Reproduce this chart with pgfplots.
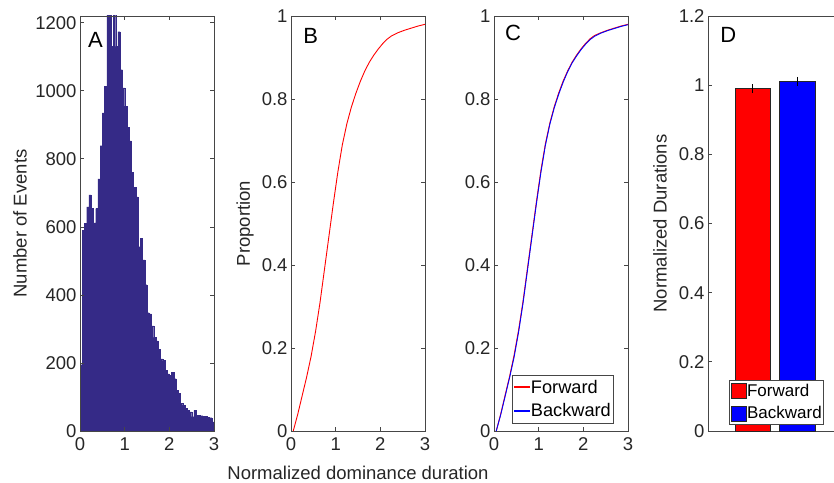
\documentclass[border=0pt]{standalone}
\usepackage{pgfplots}
\pgfplotsset{compat=1.18}
\usepackage{fontspec}
\setmainfont{Liberation Sans}
\definecolor{axcol}{RGB}{70,70,70}
\definecolor{txtcol}{RGB}{38,38,38}
\definecolor{histcol}{RGB}{53,42,135}
\definecolor{fwd}{RGB}{255,0,0}
\definecolor{bwd}{RGB}{0,0,255}

\pgfplotsset{
  every axis/.append style={
    scale only axis, width=134pt, height=415pt,
    anchor=south west,
    axis line style={axcol, line width=0.8pt},
    tick style={axcol, line width=0.8pt},
    major tick length=4pt,
    tick align=inside,
    tick label style={font=\fontsize{18.5}{22}\selectfont, text=txtcol},
    label style={font=\fontsize{18.5}{22}\selectfont, text=txtcol},
    /pgf/number format/assume math mode=true,
    /pgf/number format/1000 sep={},
    scaled ticks=false,
    xticklabel style={yshift=-3pt},
  },
}

\pgfplotstableread{
x y
0.05 0
0.15 0.040
0.25 0.085
0.35 0.130
0.45 0.180
0.55 0.240
0.65 0.310
0.75 0.390
0.85 0.470
0.95 0.550
1.05 0.625
1.15 0.690
1.25 0.740
1.35 0.780
1.45 0.813
1.55 0.842
1.65 0.867
1.75 0.888
1.85 0.905
1.95 0.920
2.05 0.933
2.15 0.944
2.25 0.952
2.40 0.960
2.55 0.966
2.70 0.971
2.85 0.976
3.00 0.980
}\cdfB

\pgfplotstableread{
x y
0.05 0
0.15 0.041
0.25 0.087
0.35 0.132
0.45 0.183
0.55 0.243
0.65 0.313
0.75 0.393
0.85 0.473
0.95 0.553
1.05 0.628
1.15 0.692
1.25 0.742
1.35 0.782
1.45 0.815
1.55 0.844
1.65 0.868
1.75 0.889
1.85 0.906
1.95 0.921
2.05 0.934
2.15 0.945
2.25 0.953
2.40 0.960
2.55 0.966
2.70 0.971
2.85 0.976
3.00 0.980
}\cdfF

\pgfplotstableread{
x y
0.05 0
0.15 0.039
0.25 0.084
0.35 0.129
0.45 0.178
0.55 0.238
0.65 0.308
0.75 0.388
0.85 0.468
0.95 0.548
1.05 0.623
1.15 0.688
1.25 0.739
1.35 0.779
1.45 0.812
1.55 0.841
1.65 0.866
1.75 0.887
1.85 0.904
1.95 0.919
2.05 0.932
2.15 0.943
2.25 0.951
2.40 0.959
2.55 0.965
2.70 0.970
2.85 0.975
3.00 0.979
}\cdfBw

\begin{document}
\begin{tikzpicture}
\useasboundingbox (0pt,0pt) rectangle (834pt,482pt);

% ---------- A ----------
\begin{axis}[
  at={(80pt,51pt)},
  xmin=0, xmax=3, ymin=0, ymax=1220,
  xtick={0,1,2,3}, ytick={0,200,400,600,800,1000,1200},
  ylabel={Number of Events},
  ylabel style={at={(axis description cs:-0.448,0.5)}, anchor=center},
  axis on top,
]
\addplot[ybar interval, fill=histcol, draw=histcol, line width=0.2pt] coordinates {
(0,195)(0.05,590)(0.1,610)(0.15,659)(0.2,694)(0.25,654)(0.3,612)(0.35,654)(0.4,741)(0.45,839)
(0.5,935)(0.55,1013)(0.6,1250)(0.65,1250)(0.7,1131)(0.75,1250)(0.8,1131)(0.85,1174)(0.9,1062)(0.95,1009)
(1.0,955)(1.05,892)(1.1,853)(1.15,761)(1.2,717)(1.25,688)(1.3,542)(1.35,566)(1.4,503)(1.45,430)
(1.5,348)(1.55,344)(1.6,309)(1.65,275)(1.7,265)(1.75,240)(1.8,212)(1.85,207)(1.9,178)(1.95,168)
(2.0,163)(2.05,173)(2.1,154)(2.15,120)(2.2,110)(2.25,81)(2.3,76)(2.35,67)(2.4,61)(2.45,56)
(2.5,42)(2.55,61)(2.6,47)(2.65,47)(2.7,45)(2.75,44)(2.8,43)(2.85,41)(2.9,39)(2.95,27)(3.0,0)
};
\node[anchor=north west, inner sep=0pt, font=\fontsize{22}{24}\selectfont, text=black] at (rel axis cs:0.06,0.961) {A};
\end{axis}

% ---------- B ----------
\begin{axis}[
  at={(291pt,51pt)},
  xmin=0, xmax=3, ymin=0, ymax=1,
  xtick={0,1,2,3}, ytick={0,0.2,0.4,0.6,0.8,1},
  ylabel={Proportion},
  ylabel style={at={(axis description cs:-0.343,0.5)}, anchor=center},
  xlabel={Normalized dominance duration},
  xlabel style={at={(axis description cs:0.5,-0.1175)}, anchor=base},
]
\addplot[color=fwd, line width=0.9pt] table[x=x,y=y] {\cdfB};
\node[anchor=north west, inner sep=0pt, font=\fontsize{22}{24}\selectfont, text=black] at (rel axis cs:0.09,0.971) {B};
\end{axis}

% ---------- C ----------
\begin{axis}[
  at={(494pt,51pt)},
  xmin=0, xmax=3, ymin=0, ymax=1,
  xtick={0,1,2,3}, ytick={0,0.2,0.4,0.6,0.8,1},
  legend style={at={(rel axis cs:0.893,0.019)}, anchor=south east,
    draw=axcol, line width=0.6pt, fill=white,
    font=\fontsize{18.2}{20}\selectfont,
    inner xsep=1.5pt, inner ysep=3.5pt, row sep=7pt,
    nodes={inner xsep=1pt, inner ysep=1pt}},
  legend cell align=left,
]
\addplot[color=fwd, line width=0.9pt,
  legend image code/.code={\fill[fill=fwd] (0pt,-0.35pt) rectangle (15.5pt,0.35pt);}]
  table[x=x,y=y] {\cdfF};
\addlegendentry{Forward}
\addplot[color=bwd, line width=0.9pt,
  legend image code/.code={\fill[fill=bwd] (0pt,-0.35pt) rectangle (15.5pt,0.35pt);}]
  table[x=x,y=y] {\cdfBw};
\addlegendentry{Backward}
\node[anchor=north west, inner sep=0pt, font=\fontsize{22}{24}\selectfont, text=black] at (rel axis cs:0.082,0.978) {C};
\end{axis}

% ---------- D ----------
\begin{axis}[
  at={(708pt,51pt)},
  xmin=0, xmax=3, ymin=0, ymax=1.2,
  xtick=\empty, ytick={0,0.2,0.4,0.6,0.8,1,1.2},
  ylabel={Normalized Durations},
  ylabel style={at={(axis description cs:-0.358,0.5)}, anchor=center},
  legend style={at={(rel axis cs:0.866,0.015)}, anchor=south east,
    draw=axcol, line width=0.6pt, fill=white,
    font=\fontsize{17}{19}\selectfont,
    inner xsep=1pt, inner ysep=3pt, row sep=6.5pt,
    nodes={inner xsep=1pt, inner ysep=1pt}},
  legend cell align=left,
  legend image code/.code={\draw[#1] (0pt,-7.5pt) rectangle (15pt,7.5pt);},
]
\addplot[ybar, bar width=0.8, fill=fwd, draw=txtcol, line width=0.5pt,
  error bars/.cd, y dir=both, y explicit, error mark=none,
  error bar style={black, line width=0.6pt}]
  coordinates {(1,0.990) +- (0,0.013)};
\addlegendentry{Forward}
\addplot[ybar, bar width=0.8, fill=bwd, draw=txtcol, line width=0.5pt,
  error bars/.cd, y dir=both, y explicit, error mark=none,
  error bar style={black, line width=0.6pt}]
  coordinates {(2,1.011) +- (0,0.013)};
\addlegendentry{Backward}
\node[anchor=north west, inner sep=0pt, font=\fontsize{22}{24}\selectfont, text=black] at (rel axis cs:0.09,0.973) {D};
\end{axis}
\end{tikzpicture}
\end{document}
